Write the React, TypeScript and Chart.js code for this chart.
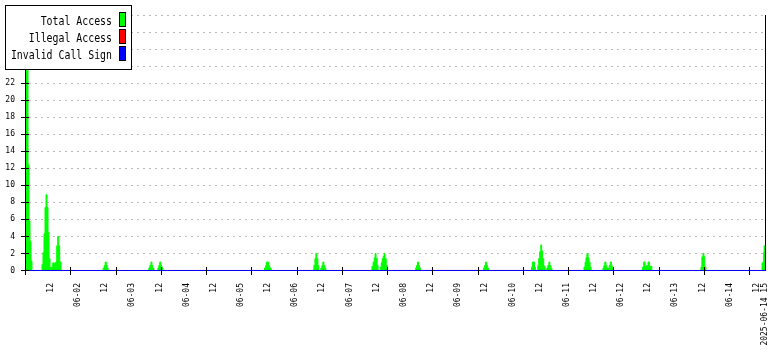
import React, { useEffect, useRef } from "react";
import { Chart, registerables } from "chart.js";

Chart.register(...registerables);

// ---- data ----
const seriesLabels = ["Total Access", "Illegal Access", "Invalid Call Sign"];
const seriesColors = ["#00ff00", "#ff0000", "#0000ff"];

// hours since 2025-06-01 00:00
const accessHours = [
  1.0, 1.88, 2.33, 2.77, 3.21, 3.65,
  8.07, 8.51, 8.96, 9.4, 9.84, 10.28, 10.72, 11.17, 11.61,
  11.92, 12.8, 13.24, 13.69, 14.13, 14.57, 15.01, 15.45, 15.9, 16.47,
  35.1, 35.6, 36.0, 36.5, 36.9, 37.3,
  55.3, 55.7, 56.2, 56.6, 57.0, 57.5,
  59.3, 59.7, 60.1, 60.6, 61.0, 61.5,
  106.4, 106.9, 107.3, 108.2, 108.7, 109.3,
  128.2, 128.7, 129.1, 129.5, 130.0, 130.4,
  131.3, 131.8, 132.2, 132.6, 133.1, 133.5,
  153.9, 154.4, 154.9, 155.3, 155.7, 156.2, 156.6,
  157.6, 158.0, 158.4, 158.9, 159.3, 159.7, 160.2, 160.8,
  173.2, 173.6, 174.0, 174.5, 174.9, 175.4,
  203.2, 203.7, 204.1, 204.5, 205.0, 205.4,
  224.4, 224.8, 225.7, 226.1,
  227.2, 227.6, 228.0, 228.5, 228.9, 229.3, 229.8, 230.4,
  231.2, 231.6, 232.1, 232.5, 232.9, 233.4,
  247.6, 248.1, 248.5, 248.9, 249.4, 249.8, 250.3, 250.7,
  256.0, 256.4, 256.8, 257.3, 257.7, 258.1,
  258.4, 258.8, 259.2, 259.7, 260.1, 260.5,
  273.4, 274.0, 274.6, 275.3, 275.9, 276.5, 277.6,
  299.3, 299.7, 300.2, 300.6, 301.0, 301.5,
  326.3, 327.0, 327.2, 327.6,
];
const accessCounts = [
  24.5, 12.4, 5.8, 3.4, 1.1, 0,
  0.7, 2.1, 4.3, 7.4, 8.9, 7.4, 4.5, 1.4, 0,
  0.4, 0.9, 0.7, 0.9, 1.0, 2.9, 4.0, 2.9, 1.0, 0,
  0.3, 0.6, 1.0, 0.6, 0.3, 0,
  0.3, 0.6, 1.0, 0.6, 0.3, 0,
  0.3, 0.6, 1.0, 0.6, 0.3, 0,
  0.3, 0.6, 1.0, 0.6, 0.3, 0,
  0.6, 1.4, 2.0, 1.4, 0.6, 0,
  0.3, 0.6, 1.0, 0.6, 0.3, 0,
  0.5, 1.0, 1.5, 2.0, 1.4, 0.6, 0,
  0.4, 0.9, 1.4, 1.7, 2.0, 1.4, 0.6, 0,
  0.3, 0.6, 1.0, 0.6, 0.3, 0,
  0.3, 0.6, 1.0, 0.6, 0.3, 0,
  0.4, 1.0, 0.4, 0,
  0.6, 1.4, 2.2, 3.0, 2.3, 1.4, 0.5, 0,
  0.3, 0.6, 1.0, 0.6, 0.3, 0,
  0.4, 1.0, 1.5, 2.0, 1.5, 1.0, 0.4, 0,
  0.3, 0.6, 1.0, 0.6, 0.3, 0,
  0.3, 0.6, 1.0, 0.6, 0.3, 0,
  0.4, 1.0, 0.4, 0.6, 1.0, 0.5, 0,
  0.4, 1.6, 2.0, 1.6, 0.4, 0,
  0.9, 2.1, 2.9, 2.9,
];
const illegalHours = [1.0, 327.6];
const illegalCounts = [0, 0];
const invalidHours = [1.0, 327.6];
const invalidCounts = [0, 0];

const xRange = [1.0, 327.6];
const yRange = [-0.06, 30];
const yTicks = [0, 2, 4, 6, 8, 10, 12, 14, 16, 18, 20, 22, 24, 26, 28, 30];

const xTickHours = [
  12, 24, 36, 48, 60, 72, 84, 96, 108, 120, 132, 144, 156, 168, 180, 192,
  204, 216, 228, 240, 252, 264, 276, 288, 300, 312, 324, 327.6,
];
const xTickLabels = [
  "12", "06-02", "12", "06-03", "12", "06-04", "12", "06-05", "12", "06-06",
  "12", "06-07", "12", "06-08", "12", "06-09", "12", "06-10", "12", "06-11",
  "12", "06-12", "12", "06-13", "12", "06-14", "12", "2025-06-14 15",
];
const xMarkHours = [
  0.6, 20.6, 40.6, 60.6, 80.6, 100.6, 120.6, 140.6, 160.6, 180.6, 200.6,
  220.6, 240.6, 260.6, 280.6, 300.6, 320.6,
];

const toPoints = (hs: number[], vs: number[]) => hs.map((h, i) => ({ x: h, y: vs[i] }));

const decorPlugin = {
  id: "rrdDecor",
  afterDatasetsDraw(chart: any) {
    const { ctx, chartArea, scales } = chart;
    const xs = scales.x;
    const ys = scales.y;
    const ax = Math.round(chartArea.left) - 0.5;
    const rx = Math.round(chartArea.right) + 0.5;
    const zy = Math.floor(ys.getPixelForValue(0));
    ctx.save();
    ctx.strokeStyle = "#000";
    ctx.lineWidth = 1;
    ctx.setLineDash([]);
    ctx.beginPath();
    ctx.moveTo(ax, chartArea.top);
    ctx.lineTo(ax, zy + 5);
    ctx.moveTo(rx, chartArea.top);
    ctx.lineTo(rx, zy + 1);
    for (const v of yTicks) {
      const py = Math.floor(ys.getPixelForValue(v)) + 0.5;
      ctx.moveTo(ax - 4.5, py);
      ctx.lineTo(ax + 3.5, py);
    }
    for (const h of xMarkHours) {
      const px = Math.round(xs.getPixelForValue(h)) + 0.5;
      ctx.moveTo(px, zy - 3);
      ctx.lineTo(px, zy + 5);
    }
    ctx.stroke();
    ctx.restore();
  },
  afterDraw(chart: any) {
    const { ctx } = chart;
    ctx.save();
    ctx.fillStyle = "#ffffff";
    ctx.fillRect(5, 5, 127, 65);
    ctx.strokeStyle = "#000";
    ctx.lineWidth = 1;
    ctx.strokeRect(5.5, 5.5, 126, 64);
    chart.data.datasets.forEach((ds: any, i: number) => {
      const top = 12 + 17 * i;
      ctx.fillStyle = seriesColors[i];
      ctx.fillRect(119.5, top + 0.5, 6, 14);
      ctx.strokeRect(119.5, top + 0.5, 6, 14);
      ctx.save();
      ctx.translate(112, 25 + 17 * i);
      ctx.scale(0.823, 1);
      ctx.font = '12px "DejaVu Sans Mono"';
      ctx.textAlign = "right";
      ctx.textBaseline = "alphabetic";
      ctx.fillStyle = "#000";
      ctx.fillText(ds.label, 0, 0);
      ctx.restore();
    });
    ctx.restore();
  },
};

export default function App() {
  const canvasRef = useRef<HTMLCanvasElement | null>(null);

  useEffect(() => {
    const canvas = canvasRef.current;
    if (!canvas) return;
    const chart = new Chart(canvas, {
      type: "line",
      data: {
        datasets: [
          {
            label: seriesLabels[0],
            data: toPoints(accessHours, accessCounts),
            stepped: "before",
            fill: "origin",
            backgroundColor: seriesColors[0],
            borderColor: seriesColors[0],
            borderWidth: 1,
            pointRadius: 0,
            order: 3,
          },
          {
            label: seriesLabels[1],
            data: toPoints(illegalHours, illegalCounts),
            stepped: "before",
            fill: false,
            borderColor: seriesColors[1],
            borderWidth: 1,
            pointRadius: 0,
            order: 2,
          },
          {
            label: seriesLabels[2],
            data: toPoints(invalidHours, invalidCounts),
            stepped: "before",
            fill: false,
            borderColor: seriesColors[2],
            borderWidth: 1,
            pointRadius: 0,
            order: 1,
          },
        ],
      },
      options: {
        animation: false,
        responsive: false,
        maintainAspectRatio: false,
        devicePixelRatio: 1,
        layout: { padding: { left: 0, right: 15, top: 15, bottom: 0 } },
        plugins: {
          legend: { display: false },
          tooltip: { enabled: false },
        },
        scales: {
          x: {
            type: "linear",
            min: xRange[0],
            max: xRange[1],
            grid: { display: false, drawTicks: false },
            border: { display: false },
            afterBuildTicks: (scale: any) => {
              scale.ticks = xTickHours.map((v) => ({ value: v }));
            },
            afterFit: (scale: any) => {
              scale.height = 79;
              scale.paddingLeft = 0;
              scale.paddingRight = 0;
            },
            ticks: {
              autoSkip: false,
              maxRotation: 90,
              minRotation: 90,
              padding: 12,
              color: "#000",
              font: { family: '"DejaVu Sans Mono", monospace', size: 8 },
              callback: (value: any) => {
                const idx = xTickHours.indexOf(Number(value));
                return idx >= 0 ? xTickLabels[idx] : "";
              },
            },
          },
          y: {
            type: "linear",
            min: yRange[0],
            max: yRange[1],
            afterBuildTicks: (scale: any) => {
              scale.ticks = yTicks.map((v) => ({ value: v }));
            },
            afterFit: (scale: any) => {
              scale.width = 26;
              scale.paddingTop = 0;
              scale.paddingBottom = 0;
            },
            grid: {
              color: "#bbbbbb",
              lineWidth: 1,
              drawTicks: false,
            },
            border: { display: false, dash: [2, 4], dashOffset: 3 },
            ticks: {
              autoSkip: false,
              padding: 11,
              color: "#000",
              font: { family: '"DejaVu Sans Mono", monospace', size: 8 },
            },
          },
        },
      },
      plugins: [decorPlugin],
    } as any);
    return () => chart.destroy();
  }, []);

  return (
    <div style={{ position: "fixed", left: 0, top: 0, width: 780, height: 350, background: "#fff" }}>
      <canvas ref={canvasRef} width={780} height={350} />
    </div>
  );
}
